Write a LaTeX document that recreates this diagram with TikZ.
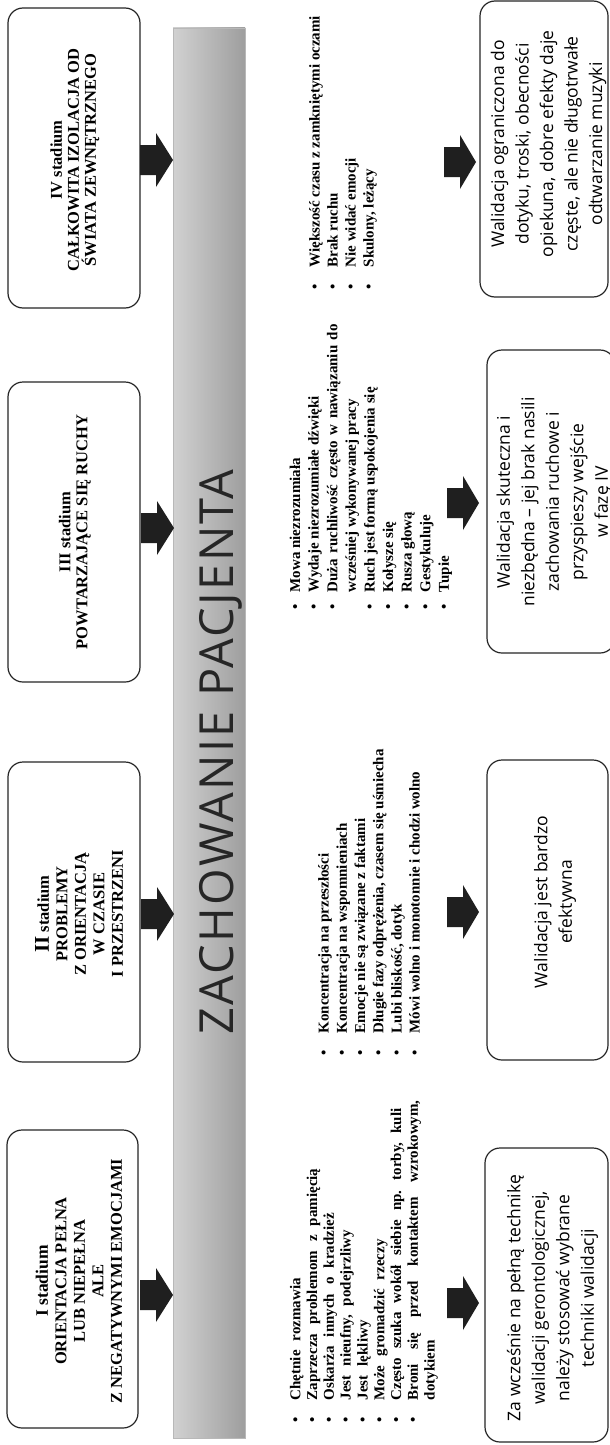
\documentclass[tikz,border=0pt]{standalone}
\usepackage{fontspec}
\setmainfont{Liberation Serif}
\newfontfamily\osans{Open Sans}
\newfontfamily\titlefont[LetterSpace=5]{Open Sans}
\newcommand\itm[2]{\par\noindent\hangindent=#1\hangafter=1\makebox[#1][l]{\textbullet}#2\par}
\newcommand\myblkarrow[3]{\fill[blk] (#1,{#3-15}) -- ({#1+16},{#3-15}) -- ({#1+16},{#3-27}) -- (#2,#3) -- ({#1+16},{#3+27}) -- ({#1+16},{#3+15}) -- (#1,{#3+15}) -- cycle;}
\begin{document}
\begin{tikzpicture}[x=1pt,y=-1pt,
  box/.style={draw=black!85, line width=1.2pt, rounded corners=15pt, inner sep=0pt},
  stagetxt/.style={rotate=90, align=center, inner sep=0pt, font=\bfseries\fontsize{16.5}{18.5}\selectfont},
  listtxt/.style={rotate=90, anchor=base west, inner sep=0pt, align=justify},
  valtxt/.style={rotate=90, align=center, inner sep=0pt, font=\osans\fontsize{17.5}{24.5}\selectfont},
  blk/.style={fill=black!88},
  band/.style={left color=black!18, right color=black!38, draw=black!28, line width=0.6pt, inner sep=0pt}]
\useasboundingbox (0,0) rectangle (610,1445);
\fill[white] (0,0) rectangle (610,1445);

% central band
\node[band, minimum width=72pt, minimum height=1410pt] (band) at (209,733) {};
\node[rotate=90, anchor=base, inner sep=0pt, text=black!85, font=\titlefont\fontsize{47}{47}\selectfont] (title) at (233.5,752) {ZACHOWANIE PACJENTA};

% stage boxes (left)
\node[box, minimum width=131pt, minimum height=298pt] (s1) at (72.5,1279) {};
\node[box, minimum width=132pt, minimum height=300pt] (s2) at (74,912) {};
\node[box, minimum width=132pt, minimum height=300pt] (s3) at (74,532) {};
\node[box, minimum width=132pt, minimum height=300pt] (s4) at (74,158) {};

\node[stagetxt] (t1) at (79,1281) {{\fontsize{17.5}{18.5}\selectfont I stadium}\\ORIENTACJA PEŁNA\\LUB NIEPEŁNA\\ALE\\Z NEGATYWNYMI EMOCJAMI};
\node[stagetxt] (t2) at (79,914) {{\fontsize{21}{18.5}\selectfont II} stadium\\PROBLEMY\\Z ORIENTACJĄ\\W CZASIE\\I PRZESTRZENI};
\node[stagetxt, font=\bfseries\fontsize{16.5}{17}\selectfont] (t3) at (75,532) {III stadium\\POWTARZAJĄCE SIĘ RUCHY};
\node[stagetxt, font=\bfseries\fontsize{16.5}{17}\selectfont] (t4) at (75,160) {IV stadium\\CAŁKOWITA IZOLACJA OD\\ŚWIATA ZEWNĘTRZNEGO};

% left arrows
\myblkarrow{140}{173}{1295}
\myblkarrow{141}{174}{914}
\myblkarrow{141}{174}{528}
\myblkarrow{140}{173}{160}

% lists
\node[listtxt, text width=322pt, font=\bfseries\fontsize{15}{16.8}\selectfont] (l1) at (283.5,1422.5) {\spaceskip=0.6em plus 1em minus 0.1em\relax
\itm{22pt}{Chętnie rozmawia}
\itm{22pt}{Zaprzecza problemom z pamięcią}
\itm{22pt}{Oskarża innych o kradzież}
\itm{22pt}{Jest nieufny, podejrzliwy}
\itm{22pt}{Jest lękliwy}
\itm{22pt}{Może gromadzić rzeczy}
\itm{22pt}{Często szuka wokół siebie np. torby, kuli}
\itm{22pt}{Broni się przed kontaktem wzrokowym,\linebreak dotykiem}};

\node[listtxt, text width=330pt, font=\bfseries\fontsize{15}{18.2}\selectfont] (l2) at (310.5,1055.5) {
\itm{22pt}{Koncentracja na przeszłości}
\itm{22pt}{Koncentracja na wspomnieniach}
\itm{22pt}{Emocje nie są związane z faktami}
\itm{22pt}{Długie fazy odprężenia, czasem się uśmiecha}
\itm{22pt}{Lubi bliskość, dotyk}
\itm{22pt}{Mówi wolno i monotonnie i chodzi wolno}};

\node[listtxt, text width=285pt, font=\bfseries\fontsize{15}{18.6}\selectfont] (l3) at (281.5,609.5) {
\itm{17pt}{Mowa niezrozumiała}
\itm{17pt}{Wydaje niezrozumiałe dźwięki}
\itm{17pt}{Duża ruchliwość często w nawiązaniu do\linebreak wcześniej wykonywanej pracy}
\itm{17pt}{Ruch jest formą uspokojenia się}
\itm{17pt}{Kołysze się}
\itm{17pt}{Rusza głową}
\itm{17pt}{Gestykuluje}
\itm{17pt}{Tupie}};

\node[listtxt, text width=295pt, font=\bfseries\fontsize{15}{18}\selectfont] (l4) at (301.5,289.5) {
\itm{22pt}{Większość czasu z zamkniętymi oczami}
\itm{22pt}{Brak ruchu}
\itm{22pt}{Nie widać emocji}
\itm{22pt}{Skulony, leżący}};

% right arrows
\myblkarrow{447}{479}{1303}
\myblkarrow{447}{479}{912}
\myblkarrow{447}{479}{503}
\myblkarrow{444}{476}{162}

% validation boxes (right)
\node[box, minimum width=123pt, minimum height=294pt] (r1) at (546.5,1295) {};
\node[box, minimum width=121pt, minimum height=300pt] (r2) at (547.5,910) {};
\node[box, minimum width=128pt, minimum height=303pt] (r3) at (551,501.5) {};
\node[box, minimum width=128pt, minimum height=296pt] (r4) at (544,149) {};

\node[valtxt] (v1) at (552.5,1298) {Za wcześnie na pełną technikę\\walidacji gerontologicznej,\\należy stosować wybrane\\techniki walidacji};
\node[valtxt] (v2) at (555,902) {Walidacja jest bardzo\\efektywna};
\node[valtxt] (v3) at (554,502) {Walidacja skuteczna i\\niezbędna – jej brak nasili\\zachowania ruchowe i\\przyspieszy wejście\\w fazę IV};
\node[valtxt] (v4) at (548.5,144) {Walidacja ograniczona do\\dotyku, troski, obecności\\opiekuna, dobre efekty daje\\częste, ale nie długotrwałe\\odtwarzanie muzyki};
\end{tikzpicture}
\end{document}
